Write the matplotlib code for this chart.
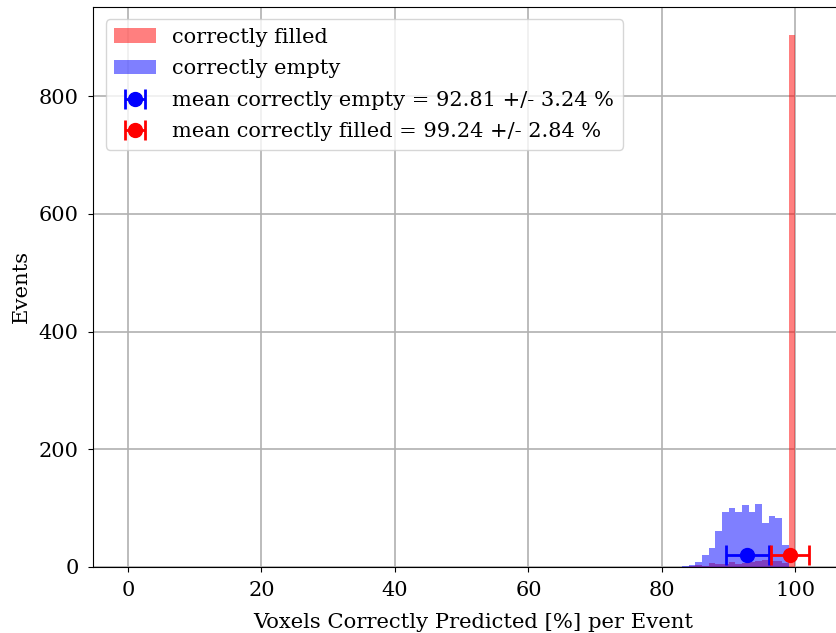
import matplotlib
matplotlib.use("Agg")
import matplotlib.pyplot as plt
import numpy as np

# histogram bins: 1 % wide, left edges 0..99
bin_edges = np.arange(0, 101, 1)

# correctly filled counts (non-zero bins only)
filled_bins = [84, 85, 86, 87, 88, 89, 90, 91, 92, 93, 94, 95, 96, 97, 98, 99]
filled_counts = [1, 3, 2, 7, 5, 4, 8, 4, 7, 8, 10, 11, 9, 10, 6, 905]

# correctly empty counts
empty_bins = [83, 84, 85, 86, 87, 88, 89, 90, 91, 92, 93, 94, 95, 96, 97, 98]
empty_counts = [1, 3, 8, 20, 32, 60, 93, 100, 93, 105, 93, 107, 74, 86, 83, 37]

mean_empty, std_empty = 92.81, 3.24
mean_filled, std_filled = 99.24, 2.84
marker_y = 20

plt.rcParams["font.family"] = "DejaVu Serif"

fig = plt.figure(figsize=(8.37, 6.33), dpi=100)
ax = fig.add_axes([93.3 / 837, 66.3 / 633, 760 / 837, 559.7 / 633])

ax.hist(np.array(filled_bins) + 0.5, bins=bin_edges, weights=filled_counts,
        color="red", alpha=0.5, label="correctly filled")
ax.hist(np.array(empty_bins) + 0.5, bins=bin_edges, weights=empty_counts,
        color="blue", alpha=0.5, label="correctly empty")
ax.errorbar(mean_empty, marker_y, xerr=std_empty, fmt="o", color="blue",
            ms=10, capsize=7, elinewidth=2, capthick=2,
            label=f"mean correctly empty = {mean_empty:.2f} +/- {std_empty:.2f} %")
ax.errorbar(mean_filled, marker_y, xerr=std_filled, fmt="o", color="red",
            ms=10, capsize=7, elinewidth=2, capthick=2,
            label=f"mean correctly filled = {mean_filled:.2f} +/- {std_filled:.2f} %")

ax.set_xlim(-5.2, -5.2 + 760 / 6.674)
ax.set_ylim(0, 952)
ax.set_xticks([0, 20, 40, 60, 80, 100])
ax.set_yticks([0, 200, 400, 600, 800])
ax.tick_params(labelsize=15, pad=7)
ax.set_xlabel("Voxels Correctly Predicted [%] per Event", fontsize=15.2, labelpad=9)
ax.set_ylabel("Events", fontsize=15.2, labelpad=6)
ax.spines["right"].set_visible(False)
ax.grid(True, linewidth=1.2)
ax.set_axisbelow(True)
ax.legend(loc="upper left", fontsize=15, borderaxespad=0.6, labelspacing=0.6)

fig.savefig("out.png", dpi=100)
plt.close(fig)
